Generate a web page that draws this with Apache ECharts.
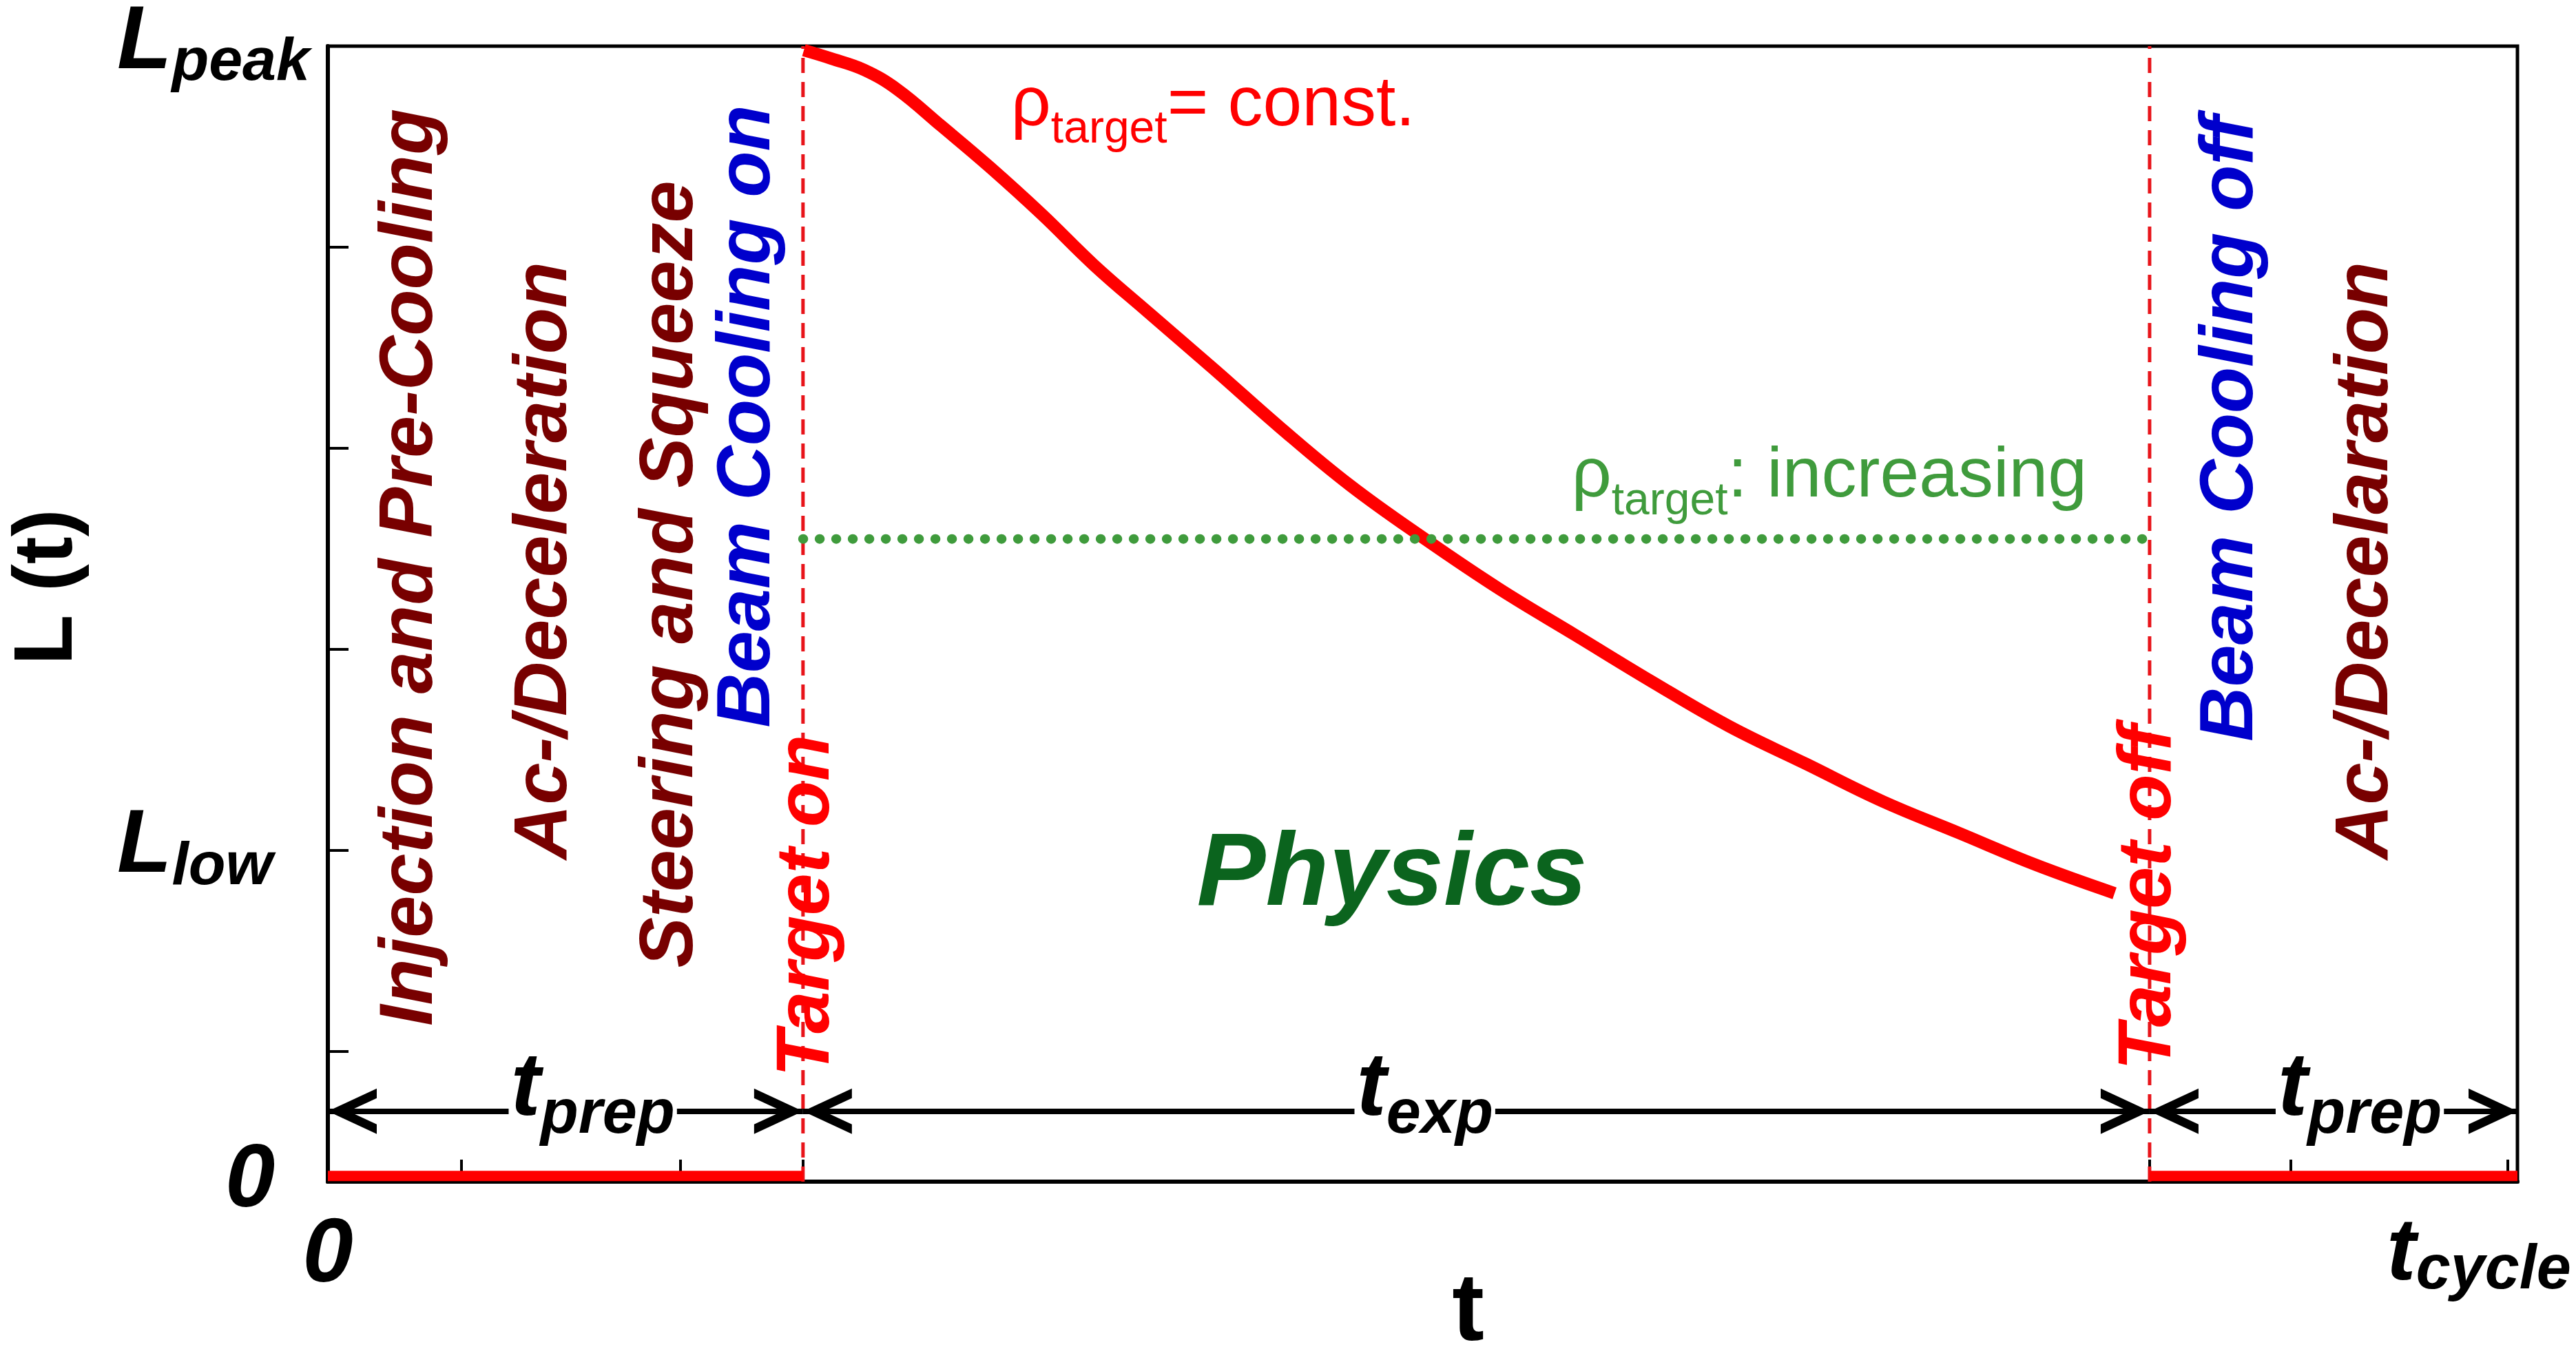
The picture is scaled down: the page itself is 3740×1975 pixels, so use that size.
<!DOCTYPE html>
<html>
<head>
<meta charset="utf-8">
<script src="https://cdn.jsdelivr.net/npm/echarts@6.0.0/dist/echarts.min.js"></script>
<style>
html, body { margin: 0; padding: 0; background: #fff; }
#chart { width: 3740px; height: 1975px; }
</style>
</head>
<body>
<div id="chart"></div>
<script>
// time axis in % of t_cycle, luminosity in % of L_peak
const tOn = 21.7;
const tOff = 83.2;
const tCycle = 100;
const lPeak = 100;
const lLow = 29.2;
const rhoLevel = 56.6;
const arrowLevel = 6.2;
const baseLevel = 0.5;

const curveT = [21.74, 23.0, 24.5, 26.0, 28.0, 30.2, 32.6, 35.0, 37.5, 40.5, 43.5, 46.7, 50.1,
    53.5, 57.0, 60.5, 64.0, 67.5, 71.0, 74.5, 78.0, 81.6];
const curveL = [99.64, 98.9, 97.9, 96.2, 93.0, 89.4, 85.2, 80.7, 76.5, 71.5, 66.4, 61.3, 56.6,
    52.2, 48.1, 44.0, 40.1, 36.8, 33.5, 30.7, 27.9, 25.4];

const yTickValues = [11.5, 29.2, 46.9, 64.6, 82.3];
const yLabelValues = [0, lLow, lPeak];
const xTickValues = [6.1, 16.1, tOn, tOff, 89.65, 99.55];
const xLabelValues = [0, tCycle];

const phaseNames = ['Injection and Pre-Cooling', 'Ac-/Deceleration', 'Steering and Squeeze', 'Beam Cooling on',
    'Target on', 'Target off', 'Beam Cooling off', 'Ac-/Decelaration'];
const phaseKind = ['prep', 'prep', 'prep', 'cooling', 'target', 'target', 'cooling', 'prep'];
const phaseT = [3.8, 9.94, 15.7, 19.2, 21.9, 83.2, 86.95, 93.1];
const phaseL = [54.1, 54.7, 53.5, 67.4, 24.3, 25.0, 66.3, 54.7];

const spans = [[0, tOn], [tOn, tOff], [tOff, tCycle]];
const spanNames = ['prep', 'exp', 'prep'];
const spanLabelT = [12.1, 50.1, 92.8];

const FONT = 'Liberation Sans, Arial, sans-serif';
const kindColor = { prep: '#780000', cooling: '#0000cc', target: '#ff0000' };

// open chevron pointing "up", tip in the centre of a square box
const chevron = 'path://M0,0L0.01,0ZM142,142L141.99,142ZM71,71L104,142L90,142L71,101L52,142L38,142Z';

function bi(size, extra) {
    return Object.assign({ fontFamily: FONT, fontSize: size, fontWeight: 'bold', fontStyle: 'italic', color: '#000' }, extra || {});
}

const myChart = echarts.init(document.getElementById('chart'));

const notes = phaseNames.map(function (name, i) {
    return {
        value: [phaseT[i], phaseL[i]],
        label: { formatter: name, rotate: 90, fontFamily: FONT, fontSize: 110, fontWeight: 'bold', fontStyle: 'italic', color: kindColor[phaseKind[i]] }
    };
});
notes.push({
    value: [48.6, 26.9],
    label: { formatter: 'Physics', fontFamily: FONT, fontSize: 150, fontWeight: 'bold', fontStyle: 'italic', color: '#0b641e' }
});
function rhoRich(color) {
    return {
        r: { fontFamily: FONT, fontSize: 102, color: color, verticalAlign: 'bottom', padding: [0, 0, 17, 0] },
        s: { fontFamily: FONT, fontSize: 66, color: color, verticalAlign: 'bottom' }
    };
}
notes.push({
    value: [31.2, 94.2],
    label: { formatter: '{r|ρ}{s|target}{r|= const.}', align: 'left', rich: rhoRich('#ff0000') }
});
notes.push({
    value: [56.8, 61.5],
    label: { formatter: '{r|ρ}{s|target}{r|: increasing}', align: 'left', rich: rhoRich('#3f9b3c') }
});
spanNames.forEach(function (n, i) {
    notes.push({
        value: [spanLabelT[i], arrowLevel],
        label: {
            formatter: '{m|t}{s|' + n + '}',
            backgroundColor: '#fff',
            padding: [0, 3],
            offset: [0, -22],
            rich: {
                m: bi(130, { verticalAlign: 'bottom', padding: [0, 0, 17, 0] }),
                s: bi(90, { verticalAlign: 'bottom' })
            }
        }
    });
});

const option = {
    backgroundColor: '#ffffff',
    animation: false,
    textStyle: { fontFamily: FONT },
    grid: {
        left: 476, right: 85, top: 67, bottom: 259,
        show: true, borderColor: '#000', borderWidth: 5,
        outerBoundsMode: 'none'
    },
    xAxis: {
        type: 'value', min: 0, max: tCycle,
        name: 't', nameLocation: 'middle', nameGap: 191, nameMoveOverlap: false,
        nameTextStyle: { fontFamily: FONT, fontSize: 140, fontWeight: 'bold', color: '#000', verticalAlign: 'middle', lineHeight: 120, padding: [0, 0, 0, 132] },
        axisLine: { show: true, lineStyle: { color: '#000', width: 6 } },
        axisTick: { show: true, inside: true, length: 32, lineStyle: { color: '#000', width: 4 }, customValues: xTickValues },
        splitLine: { show: false },
        axisLabel: {
            customValues: xLabelValues,
            margin: 109,
            verticalAlign: 'middle',
            formatter: function (v) { return v < 1 ? '{z|0}' : '{m|t}{sc|cycle}'; },
            rich: {
                z: bi(132),
                m: bi(128, { verticalAlign: 'bottom', padding: [0, 0, 5, 0] }),
                sc: bi(90, { verticalAlign: 'bottom', padding: [0, 112, 0, 0] })
            }
        }
    },
    yAxis: {
        type: 'value', min: 0, max: lPeak,
        name: 'L (t)', nameLocation: 'middle', nameGap: 405, nameMoveOverlap: false,
        nameTextStyle: { fontFamily: FONT, fontSize: 120, fontWeight: 'bold', color: '#000', verticalAlign: 'middle', lineHeight: 120, padding: [0, 0, 0, 78] },
        axisLine: { show: true, lineStyle: { color: '#000', width: 6 } },
        axisTick: { show: true, inside: true, length: 30, lineStyle: { color: '#000', width: 4 }, customValues: yTickValues },
        splitLine: { show: false },
        axisLabel: {
            customValues: yLabelValues,
            align: 'left',
            margin: 306,
            formatter: function (v) {
                if (Math.abs(v - lPeak) < 0.01) return '{m|L}{sp|peak}';
                if (Math.abs(v - lLow) < 0.01) return '{m|L}{sp|low}';
                return '{z|0}';
            },
            rich: {
                m: bi(130, { verticalAlign: 'bottom', padding: [0, 0, 8, 0] }),
                sp: bi(88, { verticalAlign: 'bottom' }),
                z: bi(130, { padding: [0, 0, 0, 157] })
            }
        }
    },
    series: [
        {
            type: 'line', name: 'target on', data: [[tOn, 0], [tOn, lPeak]], showSymbol: false, z: 2,
            lineStyle: { color: '#e8141a', width: 5, type: [22, 13] }
        },
        {
            type: 'line', name: 'target off', data: [[tOff, 0], [tOff, lPeak]], showSymbol: false, z: 2,
            lineStyle: { color: '#e8141a', width: 5, type: [22, 13] }
        },
        {
            type: 'line', name: 'prep before', data: [[0, baseLevel], [tOn, baseLevel]], showSymbol: false, z: 3,
            lineStyle: { color: '#ff0000', width: 15 }
        },
        {
            type: 'line', name: 'prep after', data: [[tOff, baseLevel], [tCycle, baseLevel]], showSymbol: false, z: 3,
            lineStyle: { color: '#ff0000', width: 15 }
        },
        {
            type: 'line', name: 'L(t)', data: curveT.map(function (t, i) { return [t, curveL[i]]; }),
            showSymbol: false, smooth: 0.4, z: 4,
            lineStyle: { color: '#ff0000', width: 18 }
        },
        {
            type: 'line', name: 'rho increasing', data: [[tOn, rhoLevel], [tOff, rhoLevel]], showSymbol: false, z: 5,
            lineStyle: { color: '#3f9b3c', width: 14, type: [0.5, 23.5], cap: 'round' }
        },
        {
            type: 'lines', coordinateSystem: 'cartesian2d', z: 6, silent: true,
            symbol: [chevron, chevron], symbolSize: 142,
            lineStyle: { color: '#000', width: 8, opacity: 1, curveness: 0 },
            data: spans.map(function (s) { return { coords: [[s[0], arrowLevel], [s[1], arrowLevel]] }; })
        },
        {
            type: 'scatter', name: 'notes', z: 10, silent: true,
            symbolSize: 1, itemStyle: { color: 'transparent', opacity: 1 },
            label: { show: true, position: 'inside' },
            data: notes
        }
    ]
};

myChart.setOption(option);
window.onresize = myChart.resize;
</script>
</body>
</html>
